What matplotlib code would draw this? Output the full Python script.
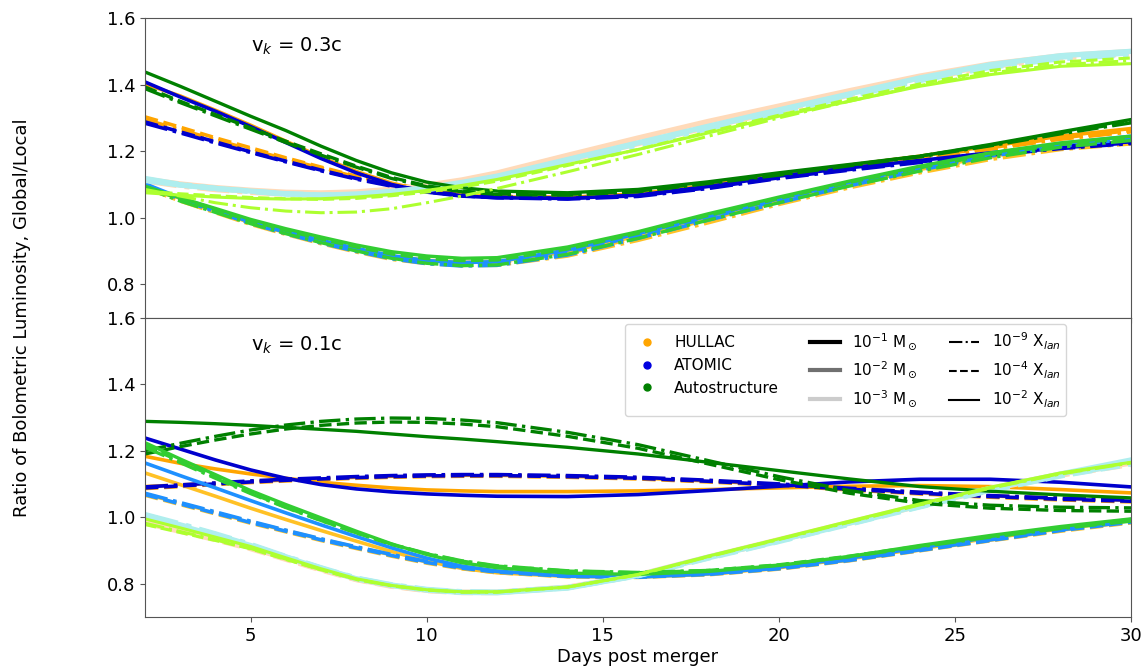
import numpy as np
import matplotlib
matplotlib.use("Agg")
import matplotlib.pyplot as plt
from matplotlib.lines import Line2D

# =============================================================================
# data (ratio global/local), days post merger
# =============================================================================
days = [2, 3, 4, 5, 6, 7, 8, 9, 10, 11, 12, 14, 16, 18, 20, 22, 24, 26, 28, 30]

# ---- v_k = 0.3c (top panel) ----
# HULLAC
t_hul_1_dd = [1.295, 1.265, 1.234, 1.205, 1.176, 1.149, 1.123, 1.100, 1.083, 1.071, 1.064, 1.059, 1.068, 1.094, 1.124, 1.152, 1.178, 1.206, 1.236, 1.258]
t_hul_1_da = [1.303, 1.272, 1.240, 1.210, 1.180, 1.152, 1.125, 1.102, 1.085, 1.072, 1.065, 1.060, 1.070, 1.096, 1.127, 1.155, 1.182, 1.210, 1.240, 1.262]
t_hul_1_so = [1.402, 1.366, 1.323, 1.278, 1.230, 1.182, 1.139, 1.104, 1.080, 1.068, 1.062, 1.061, 1.072, 1.098, 1.130, 1.158, 1.185, 1.215, 1.245, 1.268]
t_hul_2_dd = [1.090, 1.050, 1.015, 0.980, 0.950, 0.922, 0.897, 0.875, 0.862, 0.856, 0.857, 0.885, 0.932, 0.985, 1.040, 1.090, 1.135, 1.175, 1.205, 1.222]
t_hul_2_da = [1.095, 1.055, 1.020, 0.985, 0.955, 0.927, 0.903, 0.882, 0.868, 0.862, 0.864, 0.893, 0.940, 0.995, 1.048, 1.097, 1.142, 1.182, 1.212, 1.228]
t_hul_2_so = [1.098, 1.058, 1.022, 0.988, 0.958, 0.930, 0.906, 0.885, 0.872, 0.866, 0.868, 0.898, 0.945, 1.000, 1.052, 1.100, 1.145, 1.185, 1.213, 1.230]
t_hul_3_dd = [1.110, 1.095, 1.084, 1.076, 1.070, 1.067, 1.069, 1.076, 1.088, 1.103, 1.122, 1.172, 1.222, 1.272, 1.320, 1.368, 1.415, 1.453, 1.480, 1.492]
t_hul_3_da = [1.113, 1.098, 1.087, 1.079, 1.073, 1.070, 1.072, 1.080, 1.092, 1.108, 1.128, 1.180, 1.230, 1.280, 1.328, 1.375, 1.420, 1.457, 1.483, 1.496]
t_hul_3_so = [1.116, 1.102, 1.091, 1.083, 1.077, 1.075, 1.078, 1.086, 1.098, 1.114, 1.135, 1.188, 1.240, 1.290, 1.336, 1.382, 1.426, 1.462, 1.487, 1.500]
# ATOMIC
t_ato_1_dd = [1.284, 1.255, 1.225, 1.196, 1.168, 1.141, 1.116, 1.095, 1.078, 1.066, 1.060, 1.056, 1.064, 1.088, 1.118, 1.143, 1.166, 1.188, 1.208, 1.223]
t_ato_1_da = [1.288, 1.258, 1.228, 1.198, 1.170, 1.143, 1.118, 1.097, 1.080, 1.068, 1.062, 1.058, 1.066, 1.090, 1.120, 1.145, 1.168, 1.190, 1.210, 1.225]
t_ato_1_so = [1.408, 1.363, 1.320, 1.274, 1.226, 1.178, 1.135, 1.100, 1.077, 1.065, 1.060, 1.058, 1.068, 1.094, 1.125, 1.150, 1.172, 1.195, 1.215, 1.228]
t_ato_2_dd = [1.098, 1.055, 1.018, 0.983, 0.952, 0.924, 0.899, 0.877, 0.862, 0.855, 0.857, 0.888, 0.938, 0.993, 1.045, 1.096, 1.143, 1.185, 1.215, 1.237]
t_ato_2_da = [1.100, 1.058, 1.022, 0.987, 0.956, 0.928, 0.904, 0.882, 0.867, 0.861, 0.864, 0.896, 0.946, 1.000, 1.052, 1.102, 1.148, 1.190, 1.220, 1.242]
t_ato_2_so = [1.102, 1.060, 1.025, 0.990, 0.960, 0.932, 0.908, 0.886, 0.871, 0.865, 0.868, 0.903, 0.952, 1.005, 1.057, 1.106, 1.152, 1.193, 1.223, 1.245]
t_ato_3_dd = [1.118, 1.100, 1.088, 1.079, 1.071, 1.066, 1.067, 1.073, 1.084, 1.099, 1.118, 1.168, 1.218, 1.268, 1.316, 1.365, 1.412, 1.452, 1.478, 1.490]
t_ato_3_da = [1.115, 1.099, 1.088, 1.080, 1.072, 1.068, 1.070, 1.077, 1.088, 1.104, 1.123, 1.173, 1.223, 1.273, 1.322, 1.370, 1.417, 1.456, 1.483, 1.495]
t_ato_3_so = [1.112, 1.098, 1.088, 1.080, 1.072, 1.068, 1.071, 1.079, 1.090, 1.106, 1.125, 1.175, 1.225, 1.275, 1.324, 1.372, 1.420, 1.460, 1.487, 1.500]
# Autostructure
t_aut_1_dd = [1.388, 1.346, 1.306, 1.266, 1.226, 1.188, 1.152, 1.118, 1.093, 1.078, 1.070, 1.068, 1.078, 1.103, 1.128, 1.156, 1.183, 1.216, 1.252, 1.285]
t_aut_1_da = [1.393, 1.350, 1.310, 1.270, 1.230, 1.192, 1.155, 1.121, 1.096, 1.080, 1.072, 1.070, 1.080, 1.105, 1.130, 1.158, 1.185, 1.218, 1.255, 1.288]
t_aut_1_so = [1.438, 1.395, 1.350, 1.305, 1.262, 1.215, 1.172, 1.135, 1.107, 1.090, 1.080, 1.075, 1.085, 1.108, 1.135, 1.160, 1.185, 1.220, 1.258, 1.295]
t_aut_2_dd = [1.090, 1.050, 1.016, 0.982, 0.952, 0.925, 0.900, 0.878, 0.863, 0.856, 0.858, 0.890, 0.938, 0.993, 1.045, 1.095, 1.140, 1.180, 1.212, 1.232]
t_aut_2_da = [1.093, 1.056, 1.024, 0.991, 0.962, 0.936, 0.912, 0.891, 0.877, 0.871, 0.873, 0.906, 0.953, 1.007, 1.058, 1.106, 1.150, 1.190, 1.220, 1.240]
t_aut_2_so = [1.095, 1.060, 1.028, 0.995, 0.967, 0.942, 0.918, 0.898, 0.885, 0.878, 0.880, 0.912, 0.958, 1.012, 1.062, 1.110, 1.155, 1.195, 1.225, 1.245]
t_aut_3_dd = [1.085, 1.065, 1.045, 1.030, 1.020, 1.015, 1.017, 1.027, 1.045, 1.065, 1.088, 1.138, 1.190, 1.245, 1.300, 1.350, 1.397, 1.435, 1.460, 1.472]
t_aut_3_da = [1.080, 1.072, 1.066, 1.061, 1.057, 1.055, 1.058, 1.066, 1.077, 1.092, 1.110, 1.157, 1.205, 1.258, 1.308, 1.356, 1.402, 1.442, 1.468, 1.480]
t_aut_3_so = [1.075, 1.068, 1.062, 1.058, 1.056, 1.057, 1.062, 1.070, 1.082, 1.097, 1.115, 1.160, 1.205, 1.255, 1.305, 1.350, 1.395, 1.430, 1.455, 1.463]

# ---- v_k = 0.1c (bottom panel) ----
# HULLAC
b_hul_1_dd = [1.092, 1.097, 1.102, 1.107, 1.112, 1.116, 1.120, 1.123, 1.125, 1.126, 1.126, 1.123, 1.118, 1.109, 1.098, 1.086, 1.074, 1.064, 1.057, 1.051]
b_hul_1_da = [1.086, 1.092, 1.098, 1.104, 1.109, 1.113, 1.117, 1.120, 1.122, 1.123, 1.123, 1.120, 1.115, 1.106, 1.095, 1.082, 1.070, 1.060, 1.052, 1.046]
b_hul_1_so = [1.183, 1.162, 1.145, 1.130, 1.117, 1.105, 1.096, 1.088, 1.082, 1.079, 1.077, 1.077, 1.079, 1.083, 1.088, 1.093, 1.095, 1.092, 1.083, 1.073]
b_hul_2_dd = [1.070, 1.042, 1.014, 0.986, 0.960, 0.934, 0.910, 0.887, 0.866, 0.849, 0.836, 0.823, 0.821, 0.829, 0.846, 0.871, 0.901, 0.931, 0.961, 0.986]
b_hul_2_da = [1.066, 1.038, 1.010, 0.982, 0.956, 0.930, 0.906, 0.883, 0.862, 0.845, 0.833, 0.821, 0.819, 0.827, 0.844, 0.869, 0.899, 0.929, 0.958, 0.983]
b_hul_2_so = [1.133, 1.098, 1.063, 1.027, 0.993, 0.960, 0.928, 0.897, 0.868, 0.846, 0.833, 0.822, 0.820, 0.829, 0.848, 0.875, 0.905, 0.937, 0.965, 0.990]
b_hul_3_dd = [0.985, 0.960, 0.935, 0.908, 0.875, 0.843, 0.813, 0.793, 0.780, 0.774, 0.774, 0.789, 0.826, 0.880, 0.931, 0.983, 1.035, 1.084, 1.128, 1.160]
b_hul_3_da = [0.982, 0.957, 0.932, 0.905, 0.873, 0.841, 0.812, 0.792, 0.779, 0.773, 0.773, 0.788, 0.825, 0.879, 0.930, 0.982, 1.034, 1.083, 1.126, 1.158]
b_hul_3_so = [0.990, 0.964, 0.938, 0.910, 0.877, 0.844, 0.814, 0.794, 0.781, 0.775, 0.775, 0.790, 0.827, 0.881, 0.933, 0.985, 1.037, 1.087, 1.130, 1.162]
# ATOMIC
b_ato_1_dd = [1.091, 1.097, 1.103, 1.109, 1.114, 1.118, 1.122, 1.125, 1.127, 1.128, 1.128, 1.125, 1.120, 1.111, 1.100, 1.087, 1.075, 1.065, 1.057, 1.051]
b_ato_1_da = [1.088, 1.094, 1.100, 1.106, 1.111, 1.115, 1.119, 1.122, 1.124, 1.125, 1.125, 1.122, 1.117, 1.108, 1.097, 1.084, 1.072, 1.062, 1.054, 1.048]
b_ato_1_so = [1.238, 1.205, 1.172, 1.142, 1.117, 1.098, 1.085, 1.076, 1.070, 1.066, 1.063, 1.062, 1.068, 1.080, 1.093, 1.106, 1.114, 1.114, 1.105, 1.091]
b_ato_2_dd = [1.072, 1.044, 1.016, 0.988, 0.961, 0.935, 0.911, 0.888, 0.867, 0.850, 0.837, 0.824, 0.822, 0.830, 0.847, 0.872, 0.902, 0.932, 0.962, 0.987]
b_ato_2_da = [1.068, 1.040, 1.012, 0.984, 0.958, 0.932, 0.908, 0.885, 0.864, 0.847, 0.835, 0.822, 0.820, 0.828, 0.845, 0.870, 0.900, 0.930, 0.960, 0.985]
b_ato_2_so = [1.163, 1.125, 1.088, 1.050, 1.013, 0.977, 0.942, 0.908, 0.877, 0.853, 0.838, 0.823, 0.820, 0.830, 0.850, 0.877, 0.908, 0.940, 0.968, 0.993]
b_ato_3_dd = [1.008, 0.980, 0.950, 0.918, 0.882, 0.848, 0.817, 0.797, 0.783, 0.776, 0.775, 0.789, 0.825, 0.878, 0.928, 0.980, 1.032, 1.081, 1.125, 1.163]
b_ato_3_da = [1.005, 0.977, 0.948, 0.916, 0.881, 0.847, 0.816, 0.796, 0.782, 0.775, 0.774, 0.788, 0.824, 0.877, 0.927, 0.979, 1.031, 1.080, 1.124, 1.160]
b_ato_3_so = [1.003, 0.975, 0.945, 0.915, 0.880, 0.846, 0.815, 0.795, 0.781, 0.774, 0.773, 0.787, 0.825, 0.880, 0.930, 0.982, 1.035, 1.085, 1.130, 1.172]
# Autostructure
b_aut_1_dd = [1.200, 1.222, 1.243, 1.262, 1.277, 1.288, 1.295, 1.298, 1.297, 1.292, 1.284, 1.255, 1.218, 1.170, 1.122, 1.080, 1.050, 1.036, 1.030, 1.028]
b_aut_1_da = [1.190, 1.212, 1.232, 1.250, 1.265, 1.276, 1.283, 1.286, 1.285, 1.280, 1.272, 1.243, 1.207, 1.160, 1.113, 1.072, 1.042, 1.027, 1.020, 1.018]
b_aut_1_so = [1.288, 1.285, 1.281, 1.276, 1.270, 1.264, 1.258, 1.250, 1.242, 1.235, 1.227, 1.210, 1.190, 1.165, 1.140, 1.115, 1.092, 1.078, 1.067, 1.058]
b_aut_2_dd = [1.210, 1.164, 1.117, 1.071, 1.029, 0.990, 0.953, 0.919, 0.891, 0.869, 0.854, 0.839, 0.834, 0.840, 0.856, 0.881, 0.911, 0.940, 0.966, 0.988]
b_aut_2_da = [1.215, 1.168, 1.120, 1.073, 1.030, 0.990, 0.953, 0.918, 0.890, 0.868, 0.853, 0.838, 0.833, 0.840, 0.857, 0.883, 0.913, 0.942, 0.968, 0.990]
b_aut_2_so = [1.224, 1.175, 1.128, 1.080, 1.038, 0.998, 0.958, 0.920, 0.888, 0.863, 0.848, 0.832, 0.828, 0.837, 0.855, 0.882, 0.915, 0.945, 0.972, 0.995]
b_aut_3_dd = [0.982, 0.957, 0.932, 0.906, 0.874, 0.842, 0.813, 0.794, 0.781, 0.775, 0.775, 0.790, 0.827, 0.881, 0.933, 0.985, 1.037, 1.087, 1.130, 1.163]
b_aut_3_da = [0.978, 0.954, 0.930, 0.905, 0.873, 0.842, 0.813, 0.794, 0.781, 0.775, 0.775, 0.790, 0.827, 0.882, 0.934, 0.986, 1.038, 1.088, 1.131, 1.164]
b_aut_3_so = [0.995, 0.968, 0.940, 0.912, 0.878, 0.845, 0.815, 0.795, 0.782, 0.776, 0.776, 0.790, 0.828, 0.883, 0.935, 0.988, 1.040, 1.090, 1.133, 1.165]

# =============================================================================
# couleurs / styles
# =============================================================================
codes = ['HULLAC', 'ATOMIC', 'Autostructure']
code_colors = ['#FFA500', '#0000E0', '#008000']
mass_labels = [r'10$^{-1}$ M$_\odot$', r'10$^{-2}$ M$_\odot$', r'10$^{-3}$ M$_\odot$']
mass_greys = ['black', '#707070', '#cccccc']
xlan_labels = [r'10$^{-9}$ X$_{lan}$', r'10$^{-4}$ X$_{lan}$', r'10$^{-2}$ X$_{lan}$']
xlan_styles = ['-.', '--', '-']

hul_colors = ['#FFA500', '#FFC125', '#FFDAB9']
ato_colors = ['#0000CD', '#1E90FF', '#AFEEEE']
aut_colors = ['#008000', '#32CD32', '#ADFF2F']
# epaisseurs : les courbes 1e-3 sont un peu plus larges, greenyellow plus fin
mass_lw = [[2.6, 2.6, 3.6], [2.6, 2.6, 3.8], [2.4, 2.4, 2.2]]

top = [[[t_hul_1_dd, t_hul_1_da, t_hul_1_so], [t_hul_2_dd, t_hul_2_da, t_hul_2_so], [t_hul_3_dd, t_hul_3_da, t_hul_3_so]],
       [[t_ato_1_dd, t_ato_1_da, t_ato_1_so], [t_ato_2_dd, t_ato_2_da, t_ato_2_so], [t_ato_3_dd, t_ato_3_da, t_ato_3_so]],
       [[t_aut_1_dd, t_aut_1_da, t_aut_1_so], [t_aut_2_dd, t_aut_2_da, t_aut_2_so], [t_aut_3_dd, t_aut_3_da, t_aut_3_so]]]
bot = [[[b_hul_1_dd, b_hul_1_da, b_hul_1_so], [b_hul_2_dd, b_hul_2_da, b_hul_2_so], [b_hul_3_dd, b_hul_3_da, b_hul_3_so]],
       [[b_ato_1_dd, b_ato_1_da, b_ato_1_so], [b_ato_2_dd, b_ato_2_da, b_ato_2_so], [b_ato_3_dd, b_ato_3_da, b_ato_3_so]],
       [[b_aut_1_dd, b_aut_1_da, b_aut_1_so], [b_aut_2_dd, b_aut_2_da, b_aut_2_so], [b_aut_3_dd, b_aut_3_da, b_aut_3_so]]]
palette = [hul_colors, ato_colors, aut_colors]


def draw_panel(ax, curves, label):
    for c in range(3):
        for m in range(3):
            for x in range(3):
                ax.plot(days, curves[c][m][x], color=palette[c][m],
                        ls=xlan_styles[x], lw=mass_lw[c][m])
    ax.text(5, 1.5, label, fontsize=14)
    ax.set_xlim(2, 30)
    ax.set_ylim(0.7, 1.6)
    ax.set_yticks([0.8, 1.0, 1.2, 1.4, 1.6])
    ax.tick_params(labelsize=13, color='#555555')
    for s in ax.spines.values():
        s.set_color('#555555')


fig, (ax1, ax2) = plt.subplots(2, 1, sharex=True, figsize=(11.45, 6.69), dpi=100)
fig.subplots_adjust(left=0.1266, right=0.9878, top=0.973, bottom=0.0777, hspace=0)

draw_panel(ax1, top, r'v$_k$ = 0.3c')
draw_panel(ax2, bot, r'v$_k$ = 0.1c')
ax2.set_xticks([5, 10, 15, 20, 25, 30])
ax2.set_xlabel('Days post merger', fontsize=13, labelpad=2)
fig.text(0.019, 0.525, 'Ratio of Bolometric Luminosity, Global/Local',
         rotation=90, ha='center', va='center', fontsize=13)

handles = []
labels = []
for i in range(3):
    handles.append(Line2D([], [], marker='o', ls='', color=code_colors[i], markersize=5))
    labels.append(codes[i])
for i in range(3):
    handles.append(Line2D([], [], color=mass_greys[i], lw=3))
    labels.append(mass_labels[i])
for i in range(3):
    handles.append(Line2D([], [], color='black', lw=1.5, ls=xlan_styles[i]))
    labels.append(xlan_labels[i])
ax2.legend(handles, labels, ncol=3, loc='upper left', bbox_to_anchor=(0.487, 0.977),
           borderaxespad=0, fontsize=11)

fig.savefig('out.png', dpi=100)
